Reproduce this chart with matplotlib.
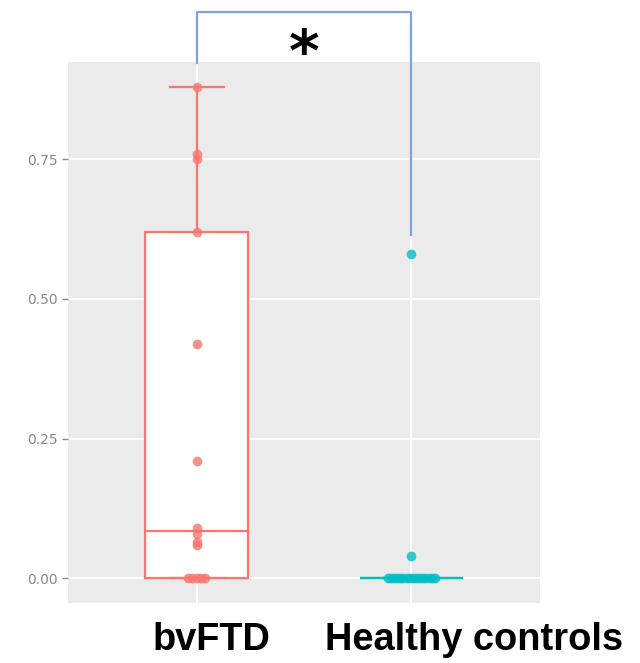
import numpy as np
import matplotlib
matplotlib.use('Agg')
import matplotlib.pyplot as plt

groups = ['bvFTD', 'Healthy controls']
colors = ['#F8766D', '#00BFC4']

# observed points
bvftd_vals = [0.88, 0.76, 0.75, 0.62, 0.42, 0.21, 0.09, 0.08, 0.065, 0.06, 0, 0, 0, 0, 0]
hc_vals = [0.58, 0.04] + [0] * 16

# box statistics
bvftd_box = dict(q1=0.0, med=0.084, q3=0.62, whislo=0.0, whishi=0.88)
hc_box = dict(q1=0.0, med=0.0, q3=0.0, whislo=0.0, whishi=0.0)

fig = plt.figure(figsize=(6.4, 6.63), dpi=100)
ax = fig.add_axes([0.1063, 0.0905, 0.7375, 0.816])
ax.set_facecolor('#ebebeb')
for s in ax.spines.values():
    s.set_visible(False)

stats = []
for b, name in zip([bvftd_box, hc_box], groups):
    d = dict(b)
    d['label'] = name
    d['fliers'] = []
    stats.append(d)

for i, (st, c) in enumerate(zip(stats, colors)):
    ax.bxp([st], positions=[i + 1], widths=0.48, showfliers=False, patch_artist=True,
           boxprops=dict(facecolor='white', edgecolor=c, linewidth=1.6),
           medianprops=dict(color=c, linewidth=1.6),
           whiskerprops=dict(color=c, linewidth=1.6),
           capprops=dict(color=c, linewidth=1.6),
           capwidths=0.25, zorder=2)

# points, zeros spread a little sideways
for i, (vals, c, spread) in enumerate(zip([bvftd_vals, hc_vals], colors, [0.04, 0.11])):
    vals = np.array(vals)
    xs = np.full(len(vals), i + 1.0)
    zeros = vals == 0
    xs[zeros] += np.linspace(-spread, spread, zeros.sum())
    ax.plot(xs, vals, 'o', color=c, markersize=7, alpha=0.8, markeredgewidth=0, zorder=3)

ax.set_xlim(0.4, 2.6)
ax.set_ylim(-0.044, 0.924)
ax.set_yticks([0, 0.25, 0.5, 0.75])
ax.set_yticklabels(['0.00', '0.25', '0.50', '0.75'])
ax.set_xticks([1, 2])
ax.set_xticklabels([])
ax.grid(True, color='white', linewidth=1.3)
ax.set_axisbelow(True)
ax.tick_params(axis='y', colors='#888888', labelsize=10, length=4, width=1)
ax.tick_params(axis='x', length=0)

# significance bracket
bc = '#7ea3e4'
ax.plot([1, 1, 2, 2], [0.923, 1.014, 1.014, 0.614], color=bc, linewidth=1.6,
        clip_on=False, zorder=4)
ax.text(1.5, 0.937, '*', ha='center', va='center', fontsize=42, fontweight='bold',
        color='black', clip_on=False)

fig.text(211 / 640, 0.0196, groups[0], ha='center', va='baseline',
         fontsize=27.4, fontweight='bold', family='Liberation Sans')
fig.text(474 / 640, 0.0196, groups[1], ha='center', va='baseline',
         fontsize=27.4, fontweight='bold', family='Liberation Sans')

fig.savefig('out.png', dpi=100, facecolor='white')
